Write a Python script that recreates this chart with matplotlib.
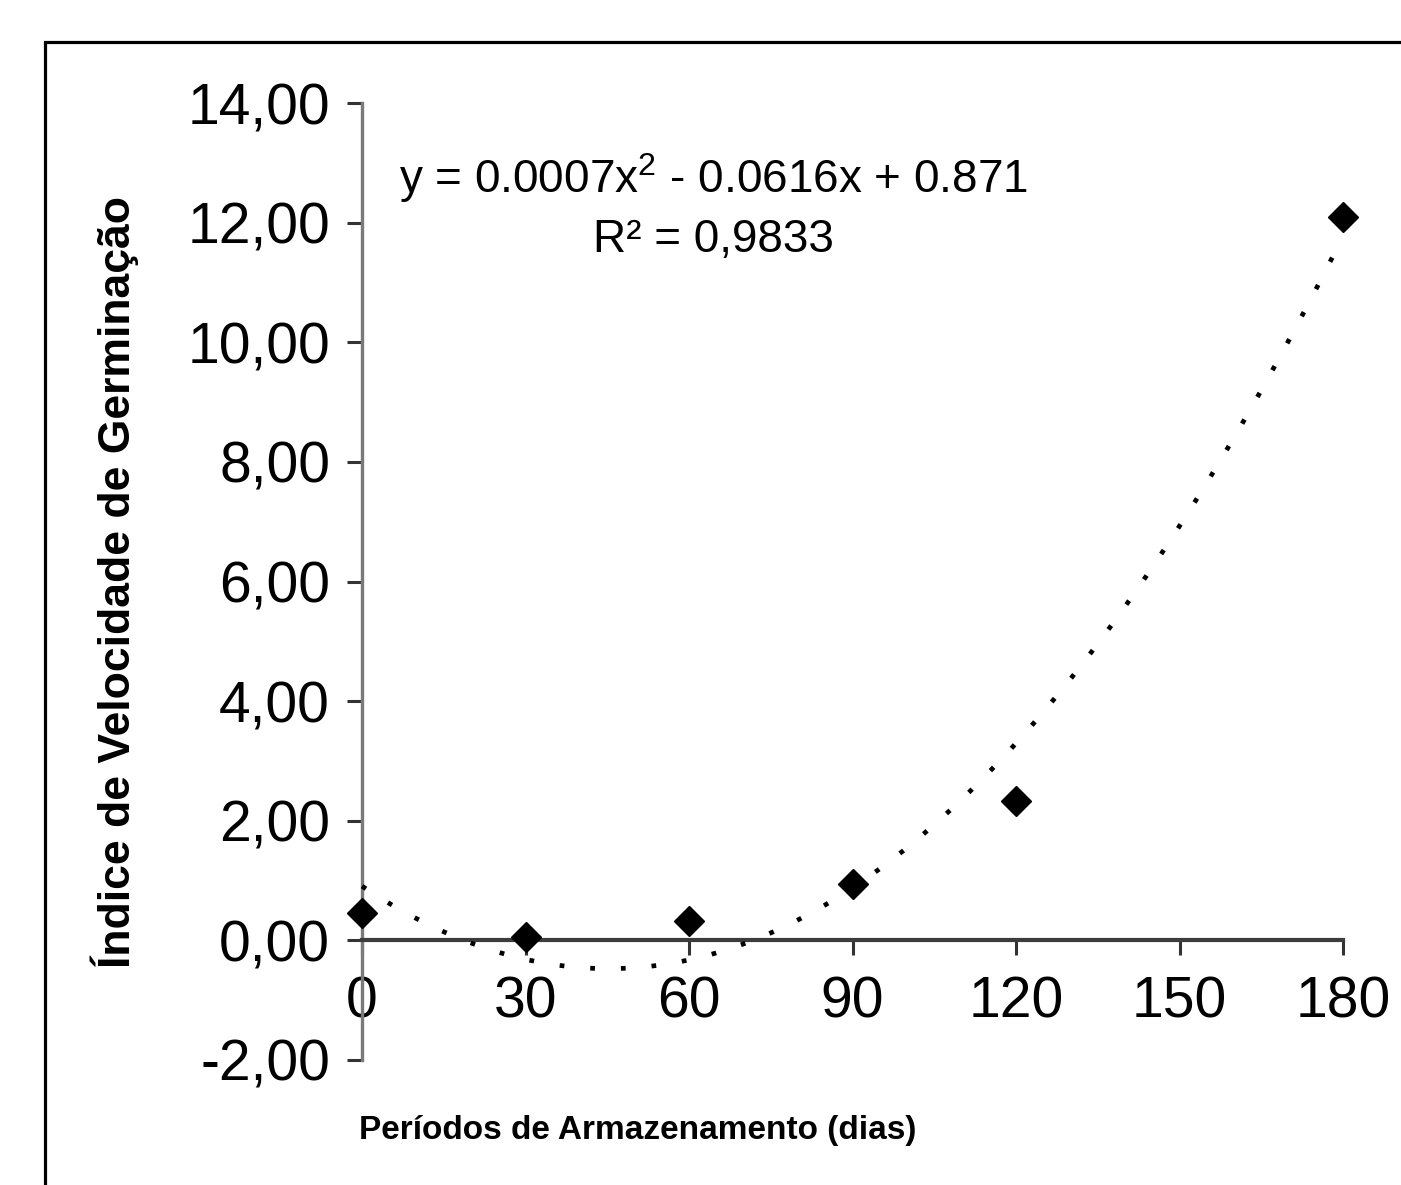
import numpy as np
import matplotlib
matplotlib.use("Agg")
import matplotlib.pyplot as plt
from matplotlib import font_manager
from matplotlib.patches import Rectangle

# ---- data ----
periods = [0, 30, 60, 90, 120, 180]
ivg = [0.45, 0.05, 0.33, 0.95, 2.33, 12.10]
x_ticks = [0, 30, 60, 90, 120, 150, 180]
y_ticks = [-2, 0, 2, 4, 6, 8, 10, 12, 14]
y_ticklabels = ["-2,00", "0,00", "2,00", "4,00", "6,00", "8,00", "10,00", "12,00", "14,00"]
equation_text = "y = 0.0007x$\\mathregular{^2}$ - 0.0616x + 0.871"
r2_text = "R² = 0,9833"
x_label = "Períodos de Armazenamento (dias)"
y_label = "Índice de Velocidade de Germinação"

plt.rcParams['font.family'] = ['Liberation Sans', 'DejaVu Sans']
plt.rcParams['mathtext.fontset'] = 'custom'
plt.rcParams['mathtext.rm'] = 'Liberation Sans'

def has_font(name):
    try:
        font_manager.findfont(font_manager.FontProperties(family=name), fallback_to_default=False)
        return True
    except Exception:
        return False

narrow = has_font('Liberation Sans Narrow')

W, H = 1401, 1185
fig = plt.figure(figsize=(W / 100, H / 100), dpi=100)
fig.patch.set_facecolor('white')

# outer frame
fig.patches.append(Rectangle((45 / W, -0.2), 1.5, (1 - 42 / H) + 0.2,
                             transform=fig.transFigure, fill=False,
                             edgecolor='black', linewidth=2.3))

left, right = 362 / W, 1343 / W
bottom, top = 1 - 1060 / H, 1 - 103 / H
ax = fig.add_axes([left, bottom, right - left, top - bottom])
ax.set_xlim(0, 180)
ax.set_ylim(-2, 14)
ax.patch.set_alpha(0)

for s in ['top', 'right']:
    ax.spines[s].set_visible(False)
ax.spines['left'].set_color('#7a7a7a')
ax.spines['left'].set_linewidth(2.4)
ax.spines['bottom'].set_position(('data', 0))
ax.spines['bottom'].set_color('#3c3c3c')
ax.spines['bottom'].set_linewidth(3.0)

ax.set_xticks(x_ticks)
ax.set_xticklabels([str(v) for v in x_ticks])
ax.set_yticks(y_ticks)
ax.set_yticklabels(y_ticklabels)
ax.tick_params(axis='y', direction='out', length=11, width=2.2, color='#333333',
               pad=12, labelsize=41, labelcolor='black')
ax.tick_params(axis='x', direction='out', length=11, width=2.2, color='#333333',
               pad=14, labelsize=41, labelcolor='black')

# trendline (2nd order polynomial fit of the data)
coef = np.polyfit(periods, ivg, 2)
xs = np.linspace(0, 180, 400)
ax.plot(xs, np.polyval(coef, xs), color='black', linewidth=3.4,
        linestyle=(0, (1, 5.5)), dash_capstyle='butt', clip_on=False, zorder=3)

ax.plot(periods, ivg, linestyle='none', marker='D', markersize=15,
        color='black', clip_on=False, zorder=4)

# equation annotation
fig.text(713 / W, 1 - 178 / H, equation_text, ha='center', va='center', fontsize=33)
fig.text(713 / W, 1 - 240 / H, r2_text, ha='center', va='center', fontsize=33)

# axis labels
if narrow:
    fig.text(638 / W, 1 - 1130 / H, x_label, ha='center', va='center',
             fontsize=26, fontweight='bold', family=['Liberation Sans Narrow', 'Liberation Sans'])
else:
    fig.text(638 / W, 1 - 1130 / H, x_label, ha='center', va='center',
             fontsize=24, fontweight='bold')
fig.text(115 / W, 1 - 582 / H, y_label, ha='center', va='center', rotation=90,
         fontsize=32, fontweight='bold')

fig.savefig('out.png', dpi=100, facecolor='white')
